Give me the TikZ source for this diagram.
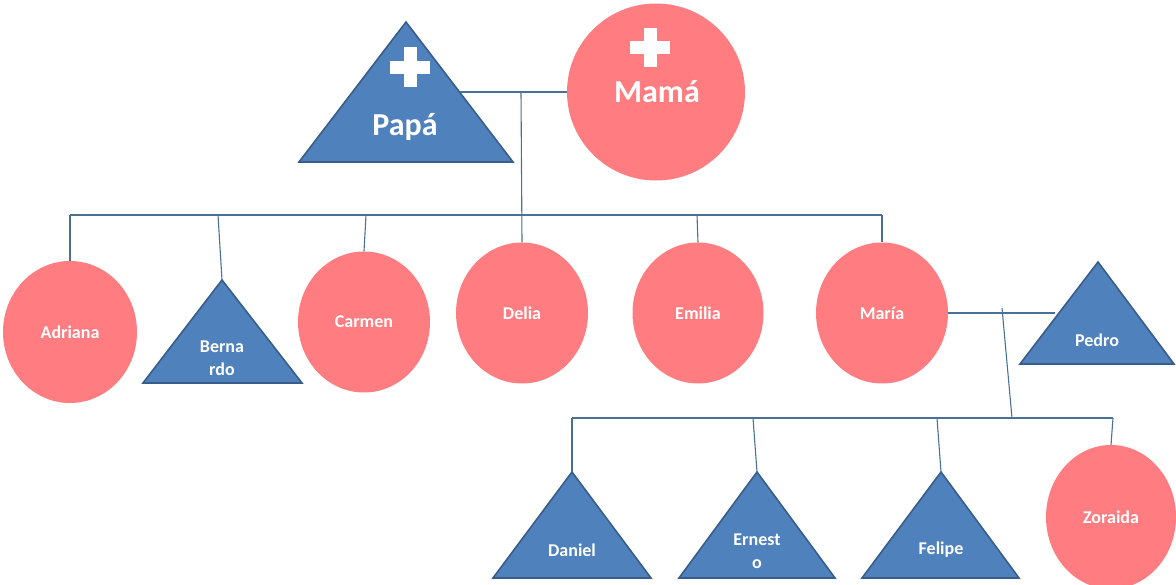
\documentclass[tikz,border=0pt]{standalone}
\usepackage{fontspec}
\setmainfont{Carlito}
\usetikzlibrary{shapes.geometric}
\definecolor{salmon}{HTML}{FF7C80}
\definecolor{tblue}{HTML}{4F81BD}
\definecolor{tborder}{HTML}{385D8A}
\definecolor{lineblue}{HTML}{4A7098}
\tikzset{
  fem/.style={ellipse,fill=salmon,inner sep=0pt},
  malebox/.style={fill=tblue,draw=tborder,line width=1.6pt,line join=miter},
  lbl/.style={text=white,font=\bfseries\fontsize{18}{23}\selectfont,align=center,inner sep=0pt},
  biglbl/.style={text=white,font=\bfseries\fontsize{32}{36}\selectfont,inner sep=0pt},
  link/.style={draw=lineblue,line width=1.1pt},
  plus/.style={fill=white}
}
\begin{document}
\begin{tikzpicture}[x=1pt,y=-1pt]
\useasboundingbox (0,0) rectangle (1176,585);
% Papa
\coordinate (papatop) at (406,22);
\path[malebox] (papatop) -- (513,162) -- (299,162) -- cycle;
\coordinate (papar) at (460,92);
\fill[plus] (390,61) rectangle (430,74);
\fill[plus] (403.5,47) rectangle (416.5,87);
\node[biglbl] (papa) at (405,127) {Papá};
% Mama
\node[fem,minimum width=178pt,minimum height=177pt] (mama) at (656,92) {};
\fill[plus] (630,41) rectangle (670,54);
\fill[plus] (643.5,28) rectangle (656.5,67);
\node[biglbl] (mamaT) at (657,92) {Mamá};
% couple link
\coordinate (pm) at (521,92);
\draw[link] (papar) -- (mama.west);
% children
\node[fem,minimum width=134pt,minimum height=142pt] (adriana) at (70,332) {};
\node[lbl] at (adriana.center) {Adriana};
\coordinate (berntop) at (222,280);
\path[malebox] (berntop) -- (302,383) -- (143,383) -- cycle;
\node[lbl] (bern) at (222,358) {Berna\\rdo};
\node[fem,minimum width=132pt,minimum height=141pt] (carmen) at (364,322) {};
\node[lbl] at (carmen.center) {Carmen};
\node[fem,minimum width=132pt,minimum height=141pt] (delia) at (522,313) {};
\node[lbl] at (delia.center) {Delia};
\node[fem,minimum width=131pt,minimum height=141pt] (emilia) at (698,313) {};
\node[lbl] at (emilia.center) {Emilia};
\node[fem,minimum width=132pt,minimum height=141pt] (maria) at (882,313) {};
\node[lbl] at (maria.center) {María};
\coordinate (pedrotop) at (1098,262);
\path[malebox] (pedrotop) -- (1174,364) -- (1020,364) -- cycle;
\node[lbl] (pedro) at (1097,340) {Pedro};
\coordinate (pedrol) at (1055,313);
% child links
\coordinate (cbl) at (70,215);
\coordinate (cbr) at (882,215);
\draw[link] (pm) -- (delia.north);
\draw[link] (cbl) -- (cbr);
\draw[link] (cbl) -- (adriana.north);
\draw[link] (218,215) -- (berntop);
\draw[link] (366,215) -- (carmen.north);
\draw[link] (697,215) -- (emilia.north);
\draw[link] (cbr) -- (maria.north);
\draw[link] (maria.east) -- (pedrol);
% grandchildren
\coordinate (gtop) at (1002,308);
\coordinate (gbar) at (1012,418);
\draw[link] (gtop) -- (gbar);
\coordinate (gbl) at (572,418);
\coordinate (gbr) at (1113,418);
\draw[link] (gbl) -- (gbr);
\coordinate (dantop) at (572,472);
\path[malebox] (dantop) -- (651,578) -- (493,578) -- cycle;
\node[lbl] (daniel) at (572,550) {Daniel};
\coordinate (erntop) at (757,472);
\path[malebox] (erntop) -- (835,578) -- (679,578) -- cycle;
\node[lbl] (ernesto) at (757,551) {Ernest\\o};
\coordinate (feltop) at (941,472);
\path[malebox] (feltop) -- (1019,578) -- (862,578) -- cycle;
\node[lbl] (felipe) at (941,550) {Felipe};
\node[fem,minimum width=130pt,minimum height=144pt] (zoraida) at (1111,517) {};
\node[lbl] at (zoraida.center) {Zoraida};
\draw[link] (gbl) -- (dantop);
\draw[link] (753,418) -- (erntop);
\draw[link] (937,418) -- (feltop);
\draw[link] (gbr) -- (zoraida.north);
\end{tikzpicture}
\end{document}
